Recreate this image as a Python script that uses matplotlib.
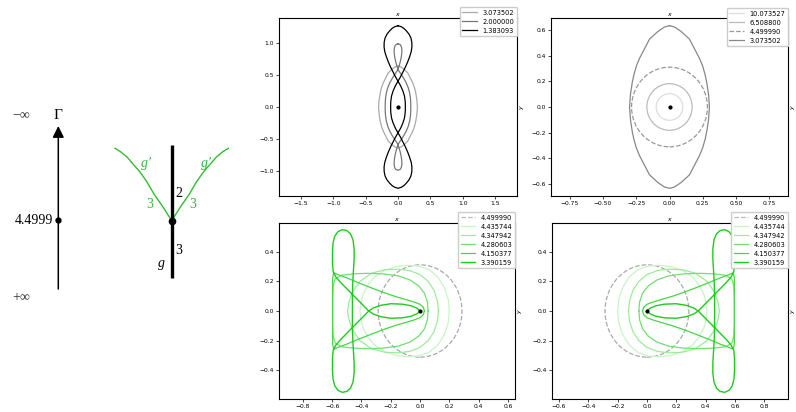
import matplotlib
matplotlib.use('Agg')
import matplotlib.pyplot as plt
from matplotlib.patches import Ellipse

# ---- data ----
# top-left panel: half profiles (y from top to 0, signed x on right branch)
black_y = [1.26, 1.245, 1.22, 1.18, 1.13, 1.07, 1.0, 0.93, 0.86, 0.78, 0.7, 0.62, 0.54, 0.47, 0.40, 0.33, 0.25, 0.17, 0.08, 0.0]
black_x = [0.0, 0.05, 0.09, 0.13, 0.17, 0.2, 0.214, 0.215, 0.205, 0.18, 0.15, 0.115, 0.075, 0.04, 0.0, -0.04, -0.075, -0.1, -0.112, -0.114]
grey2_y = [0.98, 0.97, 0.95, 0.92, 0.88, 0.83, 0.77, 0.70, 0.64, 0.58, 0.52, 0.45, 0.38, 0.30, 0.22, 0.14, 0.07, 0.0]
grey2_x = [0.0, 0.03, 0.045, 0.056, 0.06, 0.058, 0.05, 0.035, 0.018, 0.0, -0.04, -0.085, -0.125, -0.158, -0.18, -0.192, -0.197, -0.198]
eye_y = [0.635, 0.625, 0.59, 0.53, 0.45, 0.38, 0.32, 0.25, 0.19, 0.1, 0.0]
eye_x = [0.0, 0.037, 0.087, 0.15, 0.19, 0.225, 0.249, 0.268, 0.28, 0.293, 0.3]

tl_labels = ['3.073502', '2.000000', '1.383093']
tr_labels = ['10.073527', '6.508800', '4.499990', '3.073502']
# near-circular orbits (full width, full height)
tr_ell_w = [0.2, 0.34, 0.57]
tr_ell_h = [0.208, 0.364, 0.622]

# bottom panels: upper halves of the orbits (bottom-right is the mirror image)
g_labels = ['4.435744', '4.347942', '4.280603', '4.150377', '3.390159']
g1_x = [0.2, 0.192, 0.165, 0.12, 0.06, -0.01, -0.08, -0.16, -0.24, -0.31, -0.36, -0.39, -0.405, -0.41]
g1_y = [0.0, 0.08, 0.16, 0.23, 0.28, 0.303, 0.308, 0.3, 0.275, 0.23, 0.17, 0.11, 0.05, 0.0]
g2_x = [0.126, 0.118, 0.095, 0.055, 0.0, -0.07, -0.15, -0.24, -0.33, -0.41, -0.46, -0.485, -0.495]
g2_y = [0.0, 0.07, 0.14, 0.2, 0.245, 0.272, 0.282, 0.278, 0.255, 0.2, 0.13, 0.06, 0.0]
g3_x = [0.055, 0.05, 0.03, -0.01, -0.07, -0.15, -0.25, -0.36, -0.46, -0.54, -0.58, -0.593, -0.597, -0.597]
g3_y = [0.0, 0.06, 0.12, 0.17, 0.21, 0.237, 0.25, 0.254, 0.25, 0.24, 0.215, 0.17, 0.09, 0.0]
g4_x = [0.03, 0.022, 0.0, -0.04, -0.1, -0.17, -0.25, -0.33, -0.415, -0.5, -0.56, -0.59, -0.597, -0.597, -0.597]
g4_y = [0.0, 0.025, 0.045, 0.06, 0.078, 0.098, 0.125, 0.155, 0.188, 0.223, 0.245, 0.258, 0.22, 0.1, 0.0]
g5_x = [0.0, -0.02, -0.06, -0.12, -0.2, -0.27, -0.32, -0.35, -0.39, -0.44, -0.49, -0.54, -0.575, -0.593, -0.598,
        -0.598, -0.594, -0.582, -0.56, -0.53, -0.5, -0.475, -0.458, -0.45, -0.45, -0.455, -0.46, -0.462, -0.462]
g5_y = [0.0, -0.018, -0.035, -0.046, -0.049, -0.038, -0.02, 0.0, 0.04, 0.09, 0.14, 0.19, 0.23, 0.265, 0.32,
        0.4, 0.46, 0.505, 0.535, 0.548, 0.542, 0.52, 0.48, 0.42, 0.35, 0.27, 0.18, 0.09, 0.0]
circ_label = '4.499990'
circ_w, circ_h = 0.572, 0.622

green_cols = ['#c8f5c8', '#9cec9c', '#70e070', '#46d646', '#1ccc1c']
green_lw = [0.9, 0.9, 0.9, 0.9, 1.0]


def vert_profile(px, py):
    # closed curve from a signed half profile, symmetric in x and y
    xr = px + px[::-1][1:]
    yr = py + [-v for v in py[::-1]][1:]
    xs = xr + [-v for v in xr[::-1]][1:]
    ys = yr + yr[::-1][1:]
    return xs, ys


def mirror_y(hx, hy):
    # close an upper half by reflecting it in the x axis
    xs = hx + hx[::-1][1:]
    ys = hy + [-v for v in hy[::-1]][1:]
    return xs, ys


def style(ax, xlim, ylim, xt, yt):
    ax.set_xlim(xlim)
    ax.set_ylim(ylim)
    ax.set_xticks(xt)
    ax.set_yticks(yt)
    ax.tick_params(labelsize=4.3, length=2, width=0.5, pad=1.5)
    ax.xaxis.set_label_position('top')
    ax.yaxis.set_label_position('right')
    ax.set_xlabel('$x$', fontsize=4.5, labelpad=1.5)
    ax.set_ylabel('$y$', fontsize=4.5, labelpad=0.5)
    for s in ax.spines.values():
        s.set_linewidth(0.8)
    ax.plot([0], [0], 'o', color='black', ms=2, zorder=5)


def legend(ax, dy):
    ax.legend(loc='upper right', bbox_to_anchor=(1.0, 1.0 + dy), borderaxespad=0,
              fontsize=4.8, handlelength=2.2, framealpha=1, borderpad=0.4, labelspacing=0.45)


fig = plt.figure(figsize=(7.96, 4.12), dpi=100)

# ---- left schematic (pixel coordinates) ----
ax0 = fig.add_axes([0, 0, 260 / 796, 1])
ax0.set_xlim(0, 260)
ax0.set_ylim(412, 0)
ax0.axis('off')
serif = ['Liberation Serif', 'DejaVu Serif']
ax0.annotate('', xy=(58.3, 126), xytext=(58.3, 289),
             arrowprops=dict(arrowstyle='-|>', color='black', lw=1.1, mutation_scale=17, shrinkA=0, shrinkB=0))
ax0.plot([58.3], [220], 'o', color='black', ms=3.5)
ax0.text(21, 116, '−∞', fontsize=10, family=serif, ha='center', va='center', color='#333333')
ax0.text(58.3, 115, 'Γ', fontsize=11, family=serif, ha='center', va='center')
ax0.text(53, 220, '4.4999', fontsize=10, family=serif, ha='right', va='center')
ax0.text(21, 298, '+∞', fontsize=10, family=serif, ha='center', va='center', color='#333333')

branch_x = [171.7, 163, 154, 147, 140, 133, 127, 121, 115]
branch_y = [220.7, 207, 194, 182, 172, 164, 157, 152, 148.3]
gcol = '#33bb33'
ax0.plot(branch_x, branch_y, color=gcol, lw=1.0)
ax0.plot([343.4 - v for v in branch_x], branch_y, color=gcol, lw=1.0)
ax0.plot([171.7, 171.7], [145, 278], color='black', lw=2.4, solid_capstyle='butt')
ax0.plot([171.7], [220.7], 'o', color='black', ms=4.5)
ax0.text(146, 163, "g′", fontsize=10, family=serif, style='italic', color=gcol, ha='center', va='center')
ax0.text(206, 163, "g′", fontsize=10, family=serif, style='italic', color=gcol, ha='center', va='center')
ax0.text(150, 204, '3', fontsize=10, family=serif, color=gcol, ha='center', va='center')
ax0.text(193, 204, '3', fontsize=10, family=serif, color=gcol, ha='center', va='center')
ax0.text(179, 193, '2', fontsize=10, family=serif, ha='center', va='center')
ax0.text(179, 250, '3', fontsize=10, family=serif, ha='center', va='center')
ax0.text(162, 264, 'g', fontsize=10, family=serif, style='italic', ha='center', va='center')

# ---- top-left ----
ax1 = fig.add_axes([279 / 796, 1 - 196 / 412, 238 / 796, 178 / 412])
ex, ey = vert_profile(eye_x, eye_y)
ax1.plot(ex, ey, color='#aaaaaa', lw=0.9, label=tl_labels[0])
gx, gy = vert_profile(grey2_x, grey2_y)
ax1.plot(gx, gy, color='#777777', lw=0.9, label=tl_labels[1])
bx, by = vert_profile(black_x, black_y)
ax1.plot(bx, by, color='black', lw=0.9, label=tl_labels[2])
style(ax1, (-1.84, 1.84), (-1.38, 1.38), [-1.5, -1.0, -0.5, 0.0, 0.5, 1.0, 1.5], [-1.0, -0.5, 0.0, 0.5, 1.0])
legend(ax1, 11 / 178)

# ---- top-right ----
ax2 = fig.add_axes([551 / 796, 1 - 196 / 412, 237 / 796, 178 / 412])
tr_cols = ['#dddddd', '#bbbbbb', '#999999']
tr_ls = ['-', '-', '--']
for w, h, c, ls, lab in zip(tr_ell_w, tr_ell_h, tr_cols, tr_ls, tr_labels[:3]):
    ax2.add_patch(Ellipse((0, 0), w, h, fill=False, edgecolor=c, lw=0.9, linestyle=ls))
    ax2.plot([], [], color=c, lw=0.9, linestyle=ls, label=lab)
ax2.plot(ex, ey, color='#888888', lw=0.9, label=tr_labels[3])
style(ax2, (-0.89, 0.89), (-0.695, 0.695), [-0.75, -0.5, -0.25, 0.0, 0.25, 0.5, 0.75],
      [-0.6, -0.4, -0.2, 0.0, 0.2, 0.4, 0.6])
legend(ax2, 10 / 178)

# ---- bottom panels ----
halves = [(g1_x, g1_y), (g2_x, g2_y), (g3_x, g3_y), (g4_x, g4_y), (g5_x, g5_y)]
for left, sgn, xlim, xt in [(279, 1, (-0.963, 0.648), [-0.8, -0.6, -0.4, -0.2, 0.0, 0.2, 0.4, 0.6]),
                            (552, -1, (-0.648, 0.963), [-0.6, -0.4, -0.2, 0.0, 0.2, 0.4, 0.6, 0.8])]:
    ax = fig.add_axes([left / 796, 1 - 399 / 412, 236 / 796, 176 / 412])
    ax.add_patch(Ellipse((0, 0), circ_w, circ_h, fill=False, edgecolor='#aaaaaa', lw=0.9, linestyle='--'))
    ax.plot([], [], color='#bbbbbb', lw=0.9, linestyle='--', label=circ_label)
    for (hx, hy), c, lw, lab in zip(halves, green_cols, green_lw, g_labels):
        xs, ys = mirror_y(hx, hy)
        ax.plot([sgn * v for v in xs], ys, color=c, lw=lw, label=lab)
    style(ax, xlim, (-0.593, 0.593), xt, [-0.4, -0.2, 0.0, 0.2, 0.4])
    legend(ax, 11 / 176)

fig.savefig('out.png', dpi=100)
